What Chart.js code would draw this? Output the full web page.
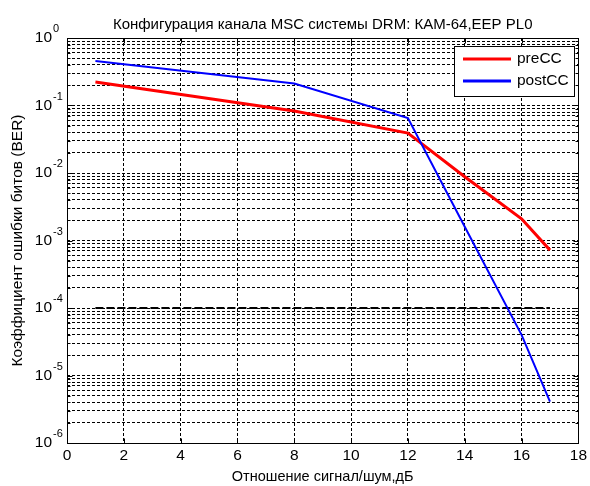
<!DOCTYPE html>
<html>
<head>
<meta charset="utf-8">
<script src="https://cdn.jsdelivr.net/npm/chart.js@4"></script>
<style>
    html, body { margin: 0; padding: 0; background: #fff; }
    canvas { display: block; }
</style>
</head>
<body>
<canvas id="ber-chart" width="590" height="486"></canvas>
<script>
// Values
const snrPoints = [1, 8, 12, 14, 16, 17];
const preCC = [0.223, 0.083, 0.039, 0.0088, 0.0021, 0.00072];
const postCC = [0.456, 0.212, 0.065, 0.0016, 0.00004, 0.0000041];
const thresholdX = [1, 17];
const thresholdY = [1e-4, 1e-4];

const xTicks = [0, 2, 4, 6, 8, 10, 12, 14, 16, 18];
const decades = [-6, -5, -4, -3, -2, -1, 0];
const minorSteps = [1, 2, 3, 4, 5, 6, 7, 8, 9];

const titleText = 'Конфигурация канала MSC системы DRM: КАМ-64,EEP PL0';
const xTitle = 'Отношение сигнал/шум,дБ';
const yTitle = 'Коэффициент ошибки битов (BER)';
const seriesLabels = ['preCC', 'postCC'];
const seriesColors = ['#ff0000', '#0000ff'];

const FONT = '"Liberation Sans", Arial, sans-serif';

function toPoints(xs, ys) {
    return xs.map((x, i) => ({ x: x, y: ys[i] }));
}

// every grid line of the log axis: 1..9 x 10^k
const yGridValues = [];
decades.forEach(d => {
    if (d === 0) {
        yGridValues.push(1);
        return;
    }
    minorSteps.forEach(m => yGridValues.push(parseFloat((m * Math.pow(10, d)).toPrecision(3))));
});

// MATLAB-like frame, inner tick marks, tick labels with exponents, legend and title
const matlabDecor = {
    id: 'matlabDecor',
    afterDatasetsDraw(chart) {
        const ctx = chart.ctx;
        const area = chart.chartArea;
        const xs = chart.scales.x;
        const ys = chart.scales.y;
        const L = Math.round(area.left) + 0.5;
        const R = Math.round(area.right) + 0.5;
        const T = Math.round(area.top) + 0.5;
        const B = Math.round(area.bottom) + 0.5;

        ctx.save();
        ctx.strokeStyle = '#000';
        ctx.lineWidth = 1;
        ctx.setLineDash([]);

        // inner tick marks
        ctx.beginPath();
        xTicks.forEach(v => {
            const px = Math.round(xs.getPixelForValue(v)) + 0.5;
            ctx.moveTo(px, B); ctx.lineTo(px, B - 5);
            ctx.moveTo(px, T); ctx.lineTo(px, T + 5);
        });
        yGridValues.forEach(v => {
            const py = Math.round(ys.getPixelForValue(v)) + 0.5;
            const major = Math.abs(Math.log10(v) - Math.round(Math.log10(v))) < 1e-6;
            const len = major ? 5 : 3;
            ctx.moveTo(L, py); ctx.lineTo(L + len, py);
            ctx.moveTo(R, py); ctx.lineTo(R - len, py);
        });
        ctx.stroke();

        // frame
        ctx.strokeRect(L, T, R - L, B - T);

        // y tick labels: 10 with raised exponent
        ctx.fillStyle = '#000';
        ctx.textBaseline = 'middle';
        decades.forEach(d => {
            const py = ys.getPixelForValue(Math.pow(10, d));
            ctx.font = '15.5px ' + FONT;
            ctx.textAlign = 'right';
            ctx.fillText('10', 52, py);
            ctx.font = '11px ' + FONT;
            ctx.textAlign = 'left';
            ctx.fillText(String(d), 53, py - 9);
        });

        // legend box
        const lx = 454.5, ly = 46.5, lw = 120, lh = 50;
        ctx.fillStyle = '#fff';
        ctx.fillRect(lx, ly, lw, lh);
        ctx.strokeRect(lx, ly, lw, lh);
        seriesLabels.forEach((label, i) => {
            const rowY = 59 + i * 22;
            ctx.strokeStyle = seriesColors[i];
            ctx.lineWidth = 3;
            ctx.beginPath();
            ctx.moveTo(463, rowY);
            ctx.lineTo(511, rowY);
            ctx.stroke();
            ctx.fillStyle = '#000';
            ctx.font = '15.5px ' + FONT;
            ctx.textAlign = 'left';
            ctx.textBaseline = 'middle';
            ctx.fillText(label, 517, rowY);
        });

        // title centred over the axes
        ctx.fillStyle = '#000';
        ctx.font = '15px ' + FONT;
        ctx.textAlign = 'center';
        ctx.textBaseline = 'alphabetic';
        ctx.fillText(titleText, (area.left + area.right) / 2, 29);
        ctx.restore();
    }
};

const ctx = document.getElementById('ber-chart');

new Chart(ctx, {
    type: 'line',
    data: {
        datasets: [
            {
                label: seriesLabels[0],
                data: toPoints(snrPoints, preCC),
                borderColor: seriesColors[0],
                borderWidth: 3,
                pointRadius: 0,
                tension: 0,
                fill: false,
                order: 2
            },
            {
                label: seriesLabels[1],
                data: toPoints(snrPoints, postCC),
                borderColor: seriesColors[1],
                borderWidth: 2,
                pointRadius: 0,
                tension: 0,
                fill: false,
                order: 1
            },
            {
                label: 'threshold',
                data: toPoints(thresholdX, thresholdY),
                borderColor: '#000',
                borderWidth: 2,
                borderDash: [8, 3],
                pointRadius: 0,
                tension: 0,
                fill: false,
                order: 3
            }
        ]
    },
    options: {
        responsive: false,
        animation: false,
        events: [],
        layout: {
            padding: { top: 38, right: 10, left: 0, bottom: 0 }
        },
        scales: {
            x: {
                type: 'linear',
                min: 0,
                max: 18,
                afterBuildTicks(scale) {
                    scale.ticks = xTicks.map(v => ({ value: v }));
                },
                afterFit(scale) {
                    scale.height = 43;
                },
                ticks: {
                    color: '#000',
                    font: { family: FONT, size: 15.5 },
                    padding: 3,
                    maxRotation: 0,
                    autoSkip: false
                },
                grid: {
                    color: '#000',
                    lineWidth: 1,
                    drawTicks: false
                },
                border: { display: false, dash: [3, 2] },
                title: {
                    display: true,
                    text: xTitle,
                    color: '#000',
                    font: { family: FONT, size: 14.5 },
                    padding: { top: 0, bottom: 0 }
                }
            },
            y: {
                type: 'logarithmic',
                min: 1e-6,
                max: 1,
                afterBuildTicks(scale) {
                    scale.ticks = yGridValues.map(v => ({ value: v }));
                },
                afterFit(scale) {
                    scale.width = 67;
                },
                ticks: {
                    display: false,
                    autoSkip: false
                },
                grid: {
                    color: '#000',
                    lineWidth: 1,
                    drawTicks: false
                },
                border: { display: false, dash: [3, 2] },
                title: {
                    display: true,
                    text: yTitle,
                    color: '#000',
                    font: { family: FONT, size: 15.5 },
                    padding: { top: 8, bottom: 0 }
                }
            }
        },
        plugins: {
            legend: { display: false },
            title: { display: false },
            tooltip: { enabled: false }
        }
    },
    plugins: [matlabDecor]
});
</script>
</body>
</html>
